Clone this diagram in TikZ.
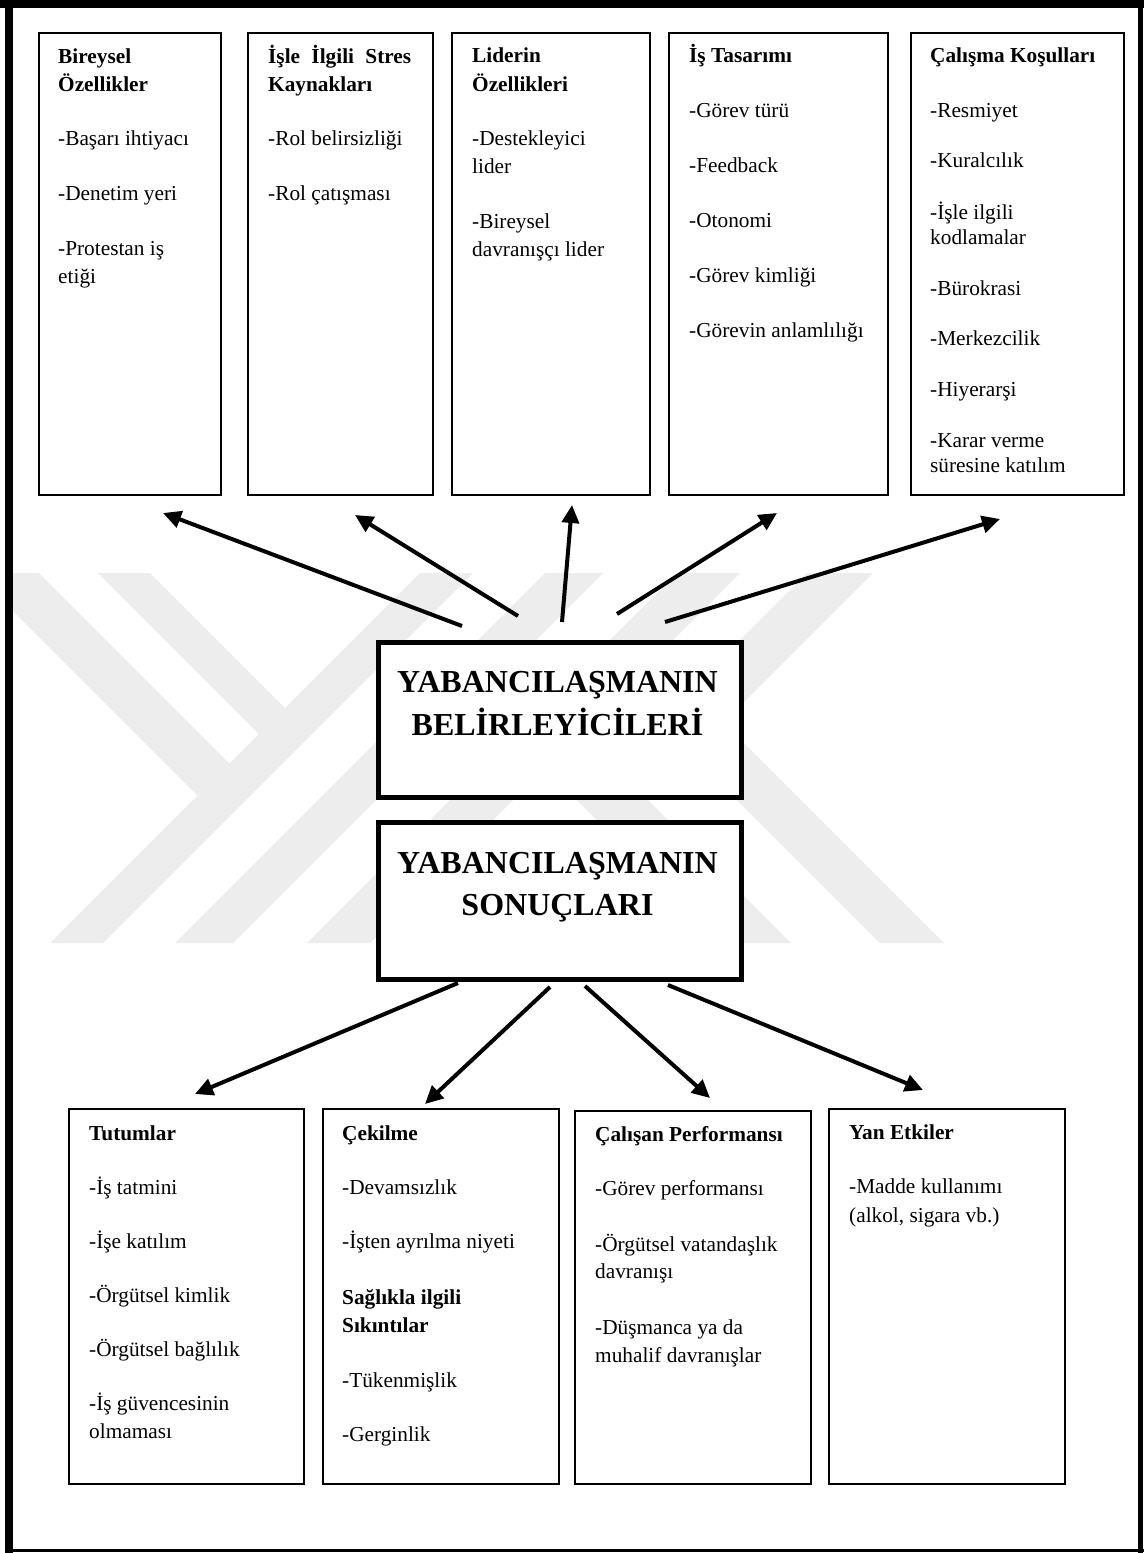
\documentclass[tikz,border=0pt]{standalone}
\usepackage{fontspec}
\setmainfont{Liberation Serif}
\usetikzlibrary{arrows.meta}
\begin{document}
\begin{tikzpicture}[x=1pt,y=-1pt,
  box/.style={draw, line width=1.8pt, fill=white, inner sep=0, anchor=north west},
  cbox/.style={draw, line width=5pt, fill=white, inner sep=0, anchor=north west},
  txt/.style={inner sep=0, anchor=base west, font=\fontsize{21.3}{28}\selectfont},
  ttl/.style={inner sep=0, anchor=base west, font=\fontsize{21.3}{28}\selectfont\bfseries},
  big/.style={inner sep=0, anchor=base, font=\fontsize{32}{40}\selectfont\bfseries},
  arr/.style={line width=4pt, -{Triangle[length=18pt,width=17pt]}},
  wm/.style={fill=black!7, draw=none}]
\useasboundingbox (0,0) rectangle (1144,1553);
\fill[white] (0,0) rectangle (1144,1553);
% watermark
\begin{scope}
\clip (13,573) rectangle (1138,943);
\fill[wm] (-25,573) -- (39,573) -- (229.5,763.5) -- (197.5,795.5) -- cycle;
\fill[wm] (98,573) -- (150,573) -- (285,708) -- (259,734) -- cycle;
\fill[wm] (420,573) -- (473,573) -- (103,943) -- (50,943) -- cycle;
\fill[wm] (545,573) -- (603,573) -- (233,943) -- (175,943) -- cycle;
\fill[wm] (677,573) -- (740,573) -- (370,943) -- (307,943) -- cycle;
\fill[wm] (807,573) -- (873,573) -- (723.5,722.5) -- (944,943) -- (880,943) -- (658.5,721.5) -- cycle;
\fill[wm] (477,700) -- (548,700) -- (791,943) -- (720,943) -- cycle;
\end{scope}
% top boxes
\node[box, minimum width=182pt, minimum height=462pt] (b1) at (38,32) {};
\node[box, minimum width=185pt, minimum height=462pt] (b2) at (247,32) {};
\node[box, minimum width=198pt, minimum height=462pt] (b3) at (451,32) {};
\node[box, minimum width=219pt, minimum height=462pt] (b4) at (668,32) {};
\node[box, minimum width=213pt, minimum height=462pt] (b5) at (910,32) {};
% centre boxes
\node[cbox, minimum width=363pt, minimum height=155pt] (det) at (376,640) {};
\node[cbox, minimum width=363pt, minimum height=157pt] (res) at (376,820) {};
% bottom boxes
\node[box, minimum width=235pt, minimum height=375pt] (c1) at (68,1108) {};
\node[box, minimum width=236pt, minimum height=375pt] (c2) at (322,1108) {};
\node[box, minimum width=236pt, minimum height=373pt] (c3) at (574,1110) {};
\node[box, minimum width=236pt, minimum height=375pt] (c4) at (828,1108) {};
% centre texts
\node[big] (d1) at (557.5,692) {YABANCILAŞMANIN};
\node[big] (d2) at (557.5,735) {BELİRLEYİCİLERİ};
\node[big] (r1) at (557.5,873) {YABANCILAŞMANIN};
\node[big] (r2) at (557.5,915) {SONUÇLARI};
% box 1
\node[ttl] (b1t1) at (58,63) {Bireysel};
\node[ttl] (b1t2) at (58,91) {Özellikler};
\foreach \ty/\tx [count=\i] in {145/{-Başarı ihtiyacı}, 200/{-Denetim yeri}, 255/{-Protestan iş}, 283/{etiği}}
  \node[txt] (b1i\i) at (58,\ty) {\tx};
% box 2
\node[ttl] (b2t1) at (268,63) {\makebox[143pt][s]{İşle İlgili Stres}};
\node[ttl] (b2t2) at (268,91) {Kaynakları};
\foreach \ty/\tx [count=\i] in {145/{-Rol belirsizliği}, 200/{-Rol çatışması}}
  \node[txt] (b2i\i) at (268,\ty) {\tx};
% box 3
\node[ttl] (b3t1) at (472,62) {Liderin};
\node[ttl] (b3t2) at (472,91) {Özellikleri};
\foreach \ty/\tx [count=\i] in {145/{-Destekleyici}, 173/{lider}, 228/{-Bireysel}, 256/{davranışçı lider}}
  \node[txt] (b3i\i) at (472,\ty) {\tx};
% box 4
\node[ttl] (b4t1) at (689,62) {İş Tasarımı};
\foreach \ty/\tx [count=\i] in {117/{-Görev türü}, 172/{-Feedback}, 227/{-Otonomi}, 282/{-Görev kimliği}, 337/{-Görevin anlamlılığı}}
  \node[txt] (b4i\i) at (689,\ty) {\tx};
% box 5
\node[ttl] (b5t1) at (930,62) {Çalışma Koşulları};
\foreach \ty/\tx [count=\i] in {117/{-Resmiyet}, 167/{-Kuralcılık}, 219/{-İşle ilgili}, 244/{kodlamalar}, 295/{-Bürokrasi}, 345/{-Merkezcilik}, 396/{-Hiyerarşi}, 447/{-Karar verme}, 472/{süresine katılım}}
  \node[txt] (b5i\i) at (930,\ty) {\tx};
% bottom box 1
\node[ttl] (c1t1) at (89,1140) {Tutumlar};
\foreach \ty/\tx [count=\i] in {1194/{-İş tatmini}, 1248/{-İşe katılım}, 1302/{-Örgütsel kimlik}, 1356/{-Örgütsel bağlılık}, 1410/{-İş güvencesinin}, 1438/{olmaması}}
  \node[txt] (c1i\i) at (89,\ty) {\tx};
% bottom box 2
\node[ttl] (c2t1) at (342,1140) {Çekilme};
\node[ttl] (c2t2) at (342,1304) {Sağlıkla ilgili};
\node[ttl] (c2t3) at (342,1332) {Sıkıntılar};
\foreach \ty/\tx [count=\i] in {1194/{-Devamsızlık}, 1248/{-İşten ayrılma niyeti}, 1387/{-Tükenmişlik}, 1441/{-Gerginlik}}
  \node[txt] (c2i\i) at (342,\ty) {\tx};
% bottom box 3
\node[ttl] (c3t1) at (595,1141) {Çalışan Performansı};
\foreach \ty/\tx [count=\i] in {1195/{-Görev performansı}, 1251/{-Örgütsel vatandaşlık}, 1278/{davranışı}, 1334/{-Düşmanca ya da}, 1362/{muhalif davranışlar}}
  \node[txt] (c3i\i) at (595,\ty) {\tx};
% bottom box 4
\node[ttl] (c4t1) at (849,1139) {Yan Etkiler};
\foreach \ty/\tx [count=\i] in {1193/{-Madde kullanımı}, 1222/{(alkol, sigara vb.)}}
  \node[txt] (c4i\i) at (849,\ty) {\tx};
% arrow end points
\coordinate (u1s) at (462,626); \coordinate (u1e) at (163,513);
\coordinate (u2s) at (518,616); \coordinate (u2e) at (355,515);
\coordinate (u3s) at (562,622); \coordinate (u3e) at (572,505);
\coordinate (u4s) at (617,614); \coordinate (u4e) at (777,513);
\coordinate (u5s) at (665,622); \coordinate (u5e) at (1000,519);
\coordinate (l1s) at (458,983); \coordinate (l1e) at (195,1094);
\coordinate (l2s) at (550,987); \coordinate (l2e) at (425,1104);
\coordinate (l3s) at (585,986); \coordinate (l3e) at (710,1098);
\coordinate (l4s) at (668,985); \coordinate (l4e) at (923,1090);
\foreach \a in {u1,u2,u3,u4,u5,l1,l2,l3,l4}
  \draw[arr] (\a s) -- (\a e);
% outer frame
\draw[line width=8pt] (9,0) -- (9,1553);
\draw[line width=8pt] (0,4) -- (1144,4);
\draw[line width=5pt] (1140.5,0) -- (1140.5,1553);
\draw[line width=3pt] (5,1550.5) -- (1144,1550.5);
\end{tikzpicture}
\end{document}
